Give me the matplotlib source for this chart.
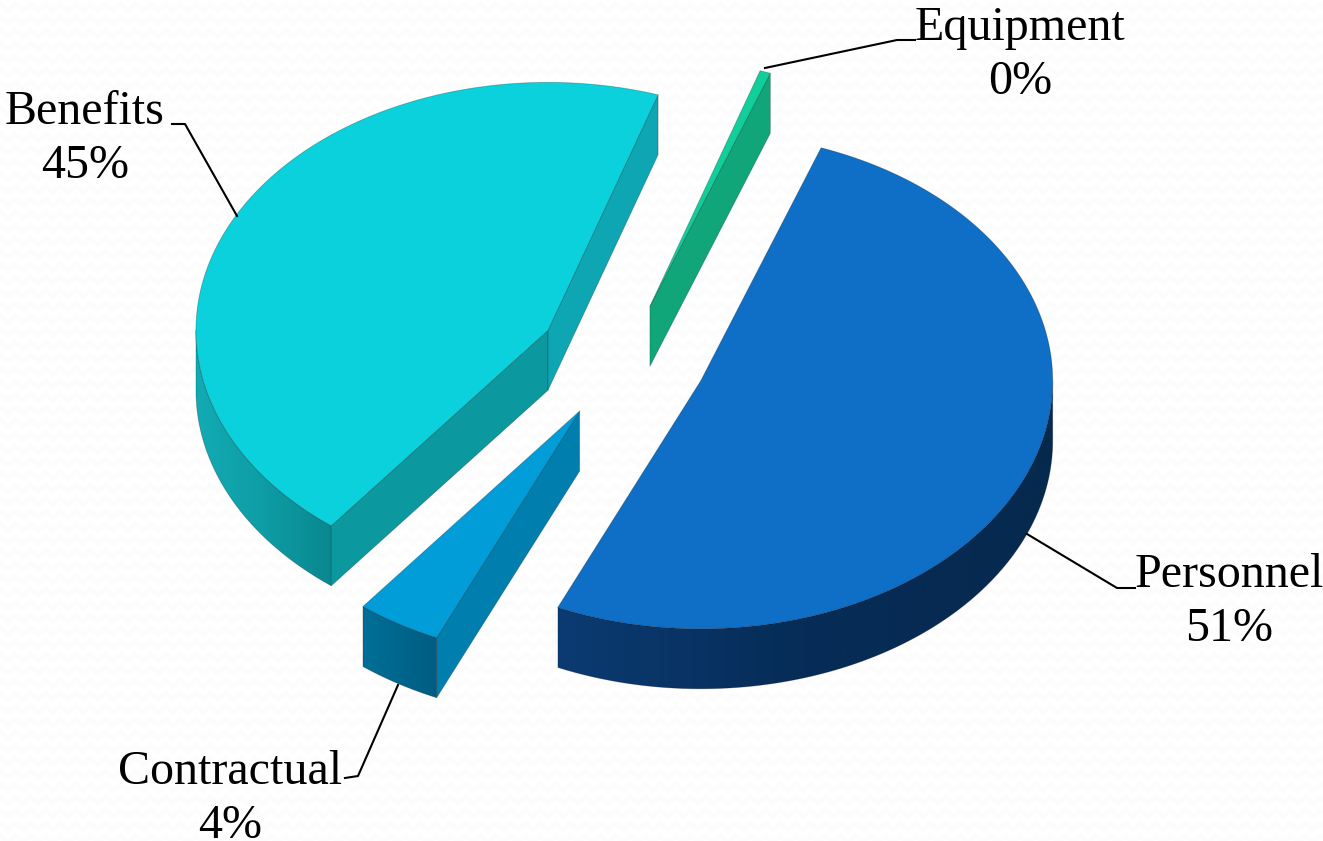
import numpy as np
from matplotlib import pyplot as plt
from matplotlib.colors import LinearSegmentedColormap
from matplotlib.patches import Polygon

# chart data, clockwise from the start angle
categories = ["Personnel", "Contractual", "Benefits", "Equipment"]
values = [51.1, 3.9, 44.51, 0.49]

# look of each slice
explode = [0.235, 0.245, 0.245, 0.225]
top_colors = ["#0F6FC6", "#009DD9", "#0AD1DB", "#10CF9B"]
face_colors = ["#0A3A70", "#007FAE", "#0B989F", "#10A67A"]
end_face_colors = ["#0A3A70", "#007FAE", "#0DA6B2", "#10A67A"]
rim_colors = [["#0B3B72", "#062C57", "#06294E"],
              ["#006F98", "#00668C", "#005C82"],
              ["#12ABB4", "#0E9DA5", "#09878F"],
              ["#10A67A", "#10A67A", "#10A67A"]]

# label, percent positions and leader lines in pixels
label_x = [1229, 230, 85, 1020]
label_y = [587, 784, 124, 40]
leaders = [[(1135, 588), (1117, 588), (1027, 534)],
           [(345, 778), (358, 776), (398, 685)],
           [(172, 124), (185, 124), (237, 216)],
           [(915, 40), (897, 40), (765, 68)]]

START = 20.0
CX, CY = 624, 359
RX, RY = 352, 248
DEPTH = 60
W, H = 1323, 841


def project(cx, cy, angle, radius=1.0):
    # angle is clockwise from north, y grows downwards
    a = np.radians(angle)
    return cx + radius * RX * np.sin(a), cy - radius * RY * np.cos(a)


def arc(cx, cy, a0, a1):
    angles = np.linspace(a0, a1, max(int(abs(a1 - a0)) * 2, 2))
    return [project(cx, cy, a) for a in angles]


def shifted(points):
    return [(x, y + DEPTH) for x, y in points]


def draw_slice(ax, i, a0, a1):
    mid = (a0 + a1) / 2
    cx, cy = project(CX, CY, mid, explode[i])
    line = dict(edgecolor="#00000040", linewidth=0.6, joinstyle="round")

    # cut faces, only the ones turned to the viewer
    for angle, normal, color in ((a0, a0 - 90, face_colors[i]), (a1, a1 + 90, end_face_colors[i])):
        if np.cos(np.radians(normal)) < 0:
            edge = project(cx, cy, angle)
            pts = [(cx, cy), edge, (edge[0], edge[1] + DEPTH), (cx, cy + DEPTH)]
            ax.add_patch(Polygon(pts, facecolor=color, **line))

    # outer rim with a horizontal gradient
    r0, r1 = max(a0, 90), min(a1, 270)
    if r1 > r0:
        upper = arc(cx, cy, r0, r1)
        rim = Polygon(upper + shifted(upper)[::-1], facecolor="none", **line)
        ax.add_patch(rim)
        xs = [p[0] for p in upper]
        cmap = LinearSegmentedColormap.from_list("rim", rim_colors[i])
        grad = ax.imshow(np.linspace(0, 1, 256)[None, :], cmap=cmap, aspect="auto", zorder=1.5,
                         extent=(min(xs), max(xs), H, 0))
        grad.set_clip_path(rim)
        rim.set_zorder(1.6)

    # top
    top = [(cx, cy)] + arc(cx, cy, a0, a1)
    ax.add_patch(Polygon(top, facecolor=top_colors[i], zorder=2, **line))


fig = plt.figure(figsize=(W / 100, H / 100), dpi=100)
ax = fig.add_axes([0, 0, 1, 1])

# faint woven paper behind the chart
yy, xx = np.mgrid[0:H, 0:W]
zig = np.abs((xx / 15.0) % 1 - 0.5) * 12
paper = 253 + 1.6 * np.sin(2 * np.pi * (yy + zig) / 13.0)
ax.imshow(paper, cmap="gray", vmin=0, vmax=255, extent=(0, W, H, 0), aspect="auto", zorder=0)

sweeps = np.array(values) / sum(values) * 360
angle = START
for i, sweep in enumerate(sweeps):
    draw_slice(ax, i, angle, angle + sweep)
    angle += sweep

plt.rcParams['font.family'] = ['Liberation Serif', 'DejaVu Serif']
for i, name in enumerate(categories):
    ax.text(label_x[i], label_y[i], name, fontsize=34.6, ha="center", va="baseline", color="#000000")
    ax.text(label_x[i], label_y[i] + 54, "{}%".format(round(values[i])), fontsize=34.6,
            ha="center", va="baseline", color="#000000")
    ax.plot(*zip(*leaders[i]), color="black", linewidth=1.5, zorder=3)

ax.set_xlim(0, W)
ax.set_ylim(H, 0)
ax.axis("off")
fig.savefig("out.png", dpi=100)
